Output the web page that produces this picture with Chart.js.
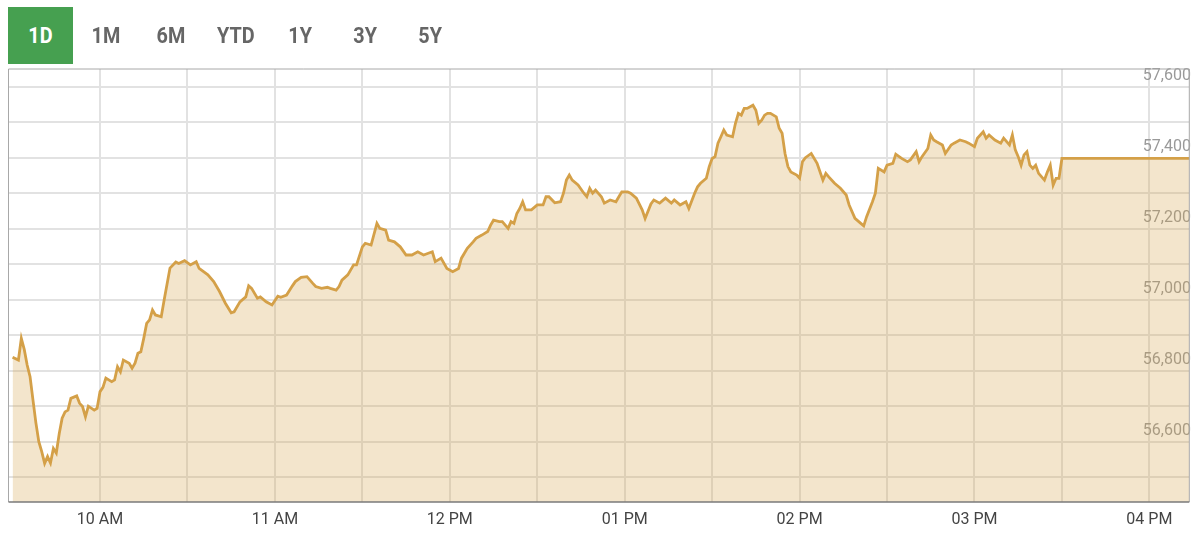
<!DOCTYPE html>
<html>
<head>
    <title>Index 1D</title>
    <script src="https://cdn.jsdelivr.net/npm/chart.js"></script>
    <style>
        body { margin: 0; background: #fff; font-family: Roboto, Arial, sans-serif; overflow: hidden; }
        .wrap { position: relative; width: 1200px; height: 533px; overflow: hidden; }
        .tabs { position: absolute; left: 8px; top: 7px; display: flex; z-index: 2; }
        .tab { width: 65px; height: 57px; line-height: 57px; text-align: center; font-weight: bold; font-size: 22px; color: #666; }
        .tab span { display: inline-block; transform: scaleX(0.9); }
        .tab.active { background: #46a050; color: #fff; }
        #chart { position: absolute; left: 0; top: 0; }
    </style>
</head>
<body>
<div class="wrap">
    <div class="tabs">
        <div class="tab active"><span>1D</span></div>
        <div class="tab"><span>1M</span></div>
        <div class="tab"><span>6M</span></div>
        <div class="tab"><span>YTD</span></div>
        <div class="tab"><span>1Y</span></div>
        <div class="tab"><span>3Y</span></div>
        <div class="tab"><span>5Y</span></div>
    </div>
    <canvas id="chart" width="1200" height="550"></canvas>
</div>

<script>
    // session opens 09:30, times are minutes after the open
    const openMinute = 570;
    const minutesFromOpen = [
        0, 2, 3, 4, 5, 6, 7, 8, 9, 10,
        11, 12, 13, 14, 15, 16, 17, 18, 19, 20,
        22, 23, 24, 25, 26, 28, 29, 30, 31, 32,
        34, 35, 36, 37, 38, 40, 41, 42, 43, 44,
        45, 46, 47, 48, 49, 51, 52, 54, 56, 57,
        59, 61, 63, 64, 67, 69, 71, 73, 75, 76,
        78, 80, 81, 82, 84, 85, 87, 89, 91, 92,
        94, 96, 97, 99, 101, 103, 104, 106, 108, 109,
        111, 112, 113, 115, 117, 118, 120, 121, 123, 125,
        126, 128, 129, 131, 133, 135, 137, 139, 141, 144,
        145, 147, 149, 151, 153, 154, 156, 158, 159, 161,
        163, 164, 165, 167, 168, 170, 171, 172, 173, 174,
        175, 176, 178, 180, 182, 183, 184, 186, 188, 189,
        190, 191, 192, 194, 196, 197, 198, 199, 200, 202,
        203, 205, 207, 208, 209, 211, 212, 214, 216, 217,
        219, 220, 222, 224, 226, 227, 229, 231, 232, 234,
        235, 236, 238, 239, 240, 241, 242, 243, 244, 245,
        247, 248, 249, 250, 251, 252, 254, 255, 256, 257,
        258, 259, 260, 262, 263, 264, 265, 266, 267, 269,
        270, 271, 272, 274, 276, 278, 279, 280, 282, 284,
        286, 287, 289, 291, 292, 293, 295, 296, 297, 299,
        300, 302, 303, 305, 307, 308, 310, 311, 312, 314,
        315, 316, 317, 319, 320, 322, 323, 325, 327, 328,
        330, 331, 333, 334, 335, 337, 339, 340, 342, 343,
        344, 345, 346, 347, 348, 349, 350, 351, 352, 354,
        355, 356, 357, 358, 359, 360, 404
    ];
    const indexValues = [
        56838, 56830, 56891, 56860, 56816, 56783, 56717, 56653, 56600, 56572,
        56539, 56558, 56540, 56581, 56568, 56622, 56666, 56684, 56689, 56722,
        56729, 56708, 56699, 56670, 56700, 56689, 56694, 56741, 56753, 56779,
        56769, 56774, 56811, 56797, 56830, 56821, 56807, 56821, 56849, 56853,
        56891, 56933, 56943, 56971, 56957, 56952, 56999, 57089, 57106, 57102,
        57110, 57098, 57107, 57088, 57070, 57051, 57023, 56990, 56963, 56966,
        56994, 57008, 57039, 57032, 57004, 57008, 56994, 56985, 57010, 57007,
        57013, 57039, 57051, 57063, 57065, 57046, 57037, 57032, 57035, 57032,
        57027, 57037, 57055, 57070, 57098, 57098, 57149, 57159, 57154, 57215,
        57201, 57196, 57168, 57163, 57149, 57126, 57126, 57135, 57126, 57135,
        57107, 57117, 57088, 57079, 57088, 57117, 57145, 57163, 57173, 57182,
        57192, 57210, 57224, 57220, 57220, 57201, 57220, 57215, 57243, 57257,
        57276, 57253, 57253, 57267, 57267, 57290, 57290, 57273, 57276, 57300,
        57337, 57351, 57337, 57323, 57300, 57290, 57314, 57300, 57309, 57290,
        57272, 57281, 57276, 57290, 57304, 57304, 57300, 57286, 57253, 57229,
        57270, 57281, 57272, 57286, 57272, 57281, 57267, 57276, 57257, 57300,
        57318, 57328, 57342, 57375, 57398, 57403, 57441, 57459, 57478, 57464,
        57459, 57497, 57525, 57520, 57539, 57539, 57548, 57534, 57497, 57506,
        57520, 57525, 57525, 57515, 57483, 57469, 57412, 57375, 57360, 57351,
        57342, 57389, 57400, 57412, 57384, 57337, 57356, 57346, 57328, 57314,
        57295, 57267, 57229, 57215, 57208, 57234, 57276, 57300, 57370, 57360,
        57379, 57384, 57410, 57398, 57389, 57394, 57417, 57389, 57403, 57426,
        57464, 57450, 57445, 57436, 57412, 57436, 57441, 57450, 57445, 57441,
        57431, 57455, 57473, 57455, 57464, 57450, 57441, 57455, 57436, 57464,
        57422, 57403, 57379, 57408, 57417, 57379, 57370, 57379, 57356, 57337,
        57360, 57379, 57323, 57342, 57342, 57398, 57398
    ];

    // gridlines every half hour / every 100 points, labels on the hour / every 200
    const xTicks = [600, 630, 660, 690, 720, 750, 780, 810, 840, 870, 900, 930, 960];
    const xLabels = { 600: '10 AM', 660: '11 AM', 720: '12 PM', 780: '01 PM', 840: '02 PM', 900: '03 PM', 960: '04 PM' };
    const yTicks = [56500, 56600, 56700, 56800, 56900, 57000, 57100, 57200, 57300, 57400, 57500, 57600];
    const yLabels = [56600, 56800, 57000, 57200, 57400, 57600];

    const points = minutesFromOpen.map((m, i) => ({ x: openMinute + m, y: indexValues[i] }));

    // box around the plot area
    const frame = {
        id: 'frame',
        afterDatasetsDraw(chart) {
            const { ctx, chartArea: a } = chart;
            ctx.save();
            ctx.strokeStyle = '#a8a8a8';
            ctx.lineWidth = 1;
            ctx.beginPath();
            ctx.moveTo(a.left, a.bottom);
            ctx.lineTo(a.left, a.top);
            ctx.lineTo(a.right, a.top);
            ctx.lineTo(a.right, a.bottom);
            ctx.stroke();
            ctx.strokeStyle = '#7a7a7a';
            ctx.lineWidth = 1.5;
            ctx.beginPath();
            ctx.moveTo(a.left, a.bottom);
            ctx.lineTo(a.right, a.bottom);
            ctx.stroke();
            ctx.restore();
        }
    };

    Chart.defaults.font.family = 'Roboto';

    new Chart(document.getElementById('chart'), {
        type: 'line',
        data: {
            datasets: [{
                data: points,
                borderColor: '#d4a048',
                backgroundColor: 'rgba(212, 160, 72, 0.28)',
                borderWidth: 2.8,
                pointRadius: 0,
                tension: 0,
                fill: 'start'
            }]
        },
        options: {
            responsive: false,
            animation: false,
            layout: { padding: { left: 8.5, top: 69, right: 7.5, bottom: 12.8 } },
            plugins: { legend: { display: false }, tooltip: { enabled: false } },
            scales: {
                x: {
                    type: 'linear',
                    min: 568.6,
                    max: 973.7,
                    afterBuildTicks: axis => { axis.ticks = xTicks.map(v => ({ value: v })); },
                    grid: { color: '#e2e2e2', lineWidth: 2, drawTicks: false },
                    border: { display: false },
                    ticks: {
                        autoSkip: false,
                        maxRotation: 0,
                        padding: 8,
                        color: '#444',
                        font: { size: 16 },
                        callback: v => xLabels[v] || ''
                    }
                },
                y: {
                    position: 'right',
                    min: 56430,
                    max: 57650,
                    afterBuildTicks: axis => { axis.ticks = yTicks.map(v => ({ value: v })); },
                    grid: { color: '#e2e2e2', lineWidth: 2, drawTicks: false },
                    border: { display: false },
                    ticks: {
                        mirror: true,
                        padding: 1.6,
                        labelOffset: -11,
                        color: '#999',
                        font: { size: 16 },
                        callback: v => yLabels.includes(v) ? v.toLocaleString('en-US') : ''
                    }
                }
            }
        },
        plugins: [frame]
    });
</script>
</body>
</html>
